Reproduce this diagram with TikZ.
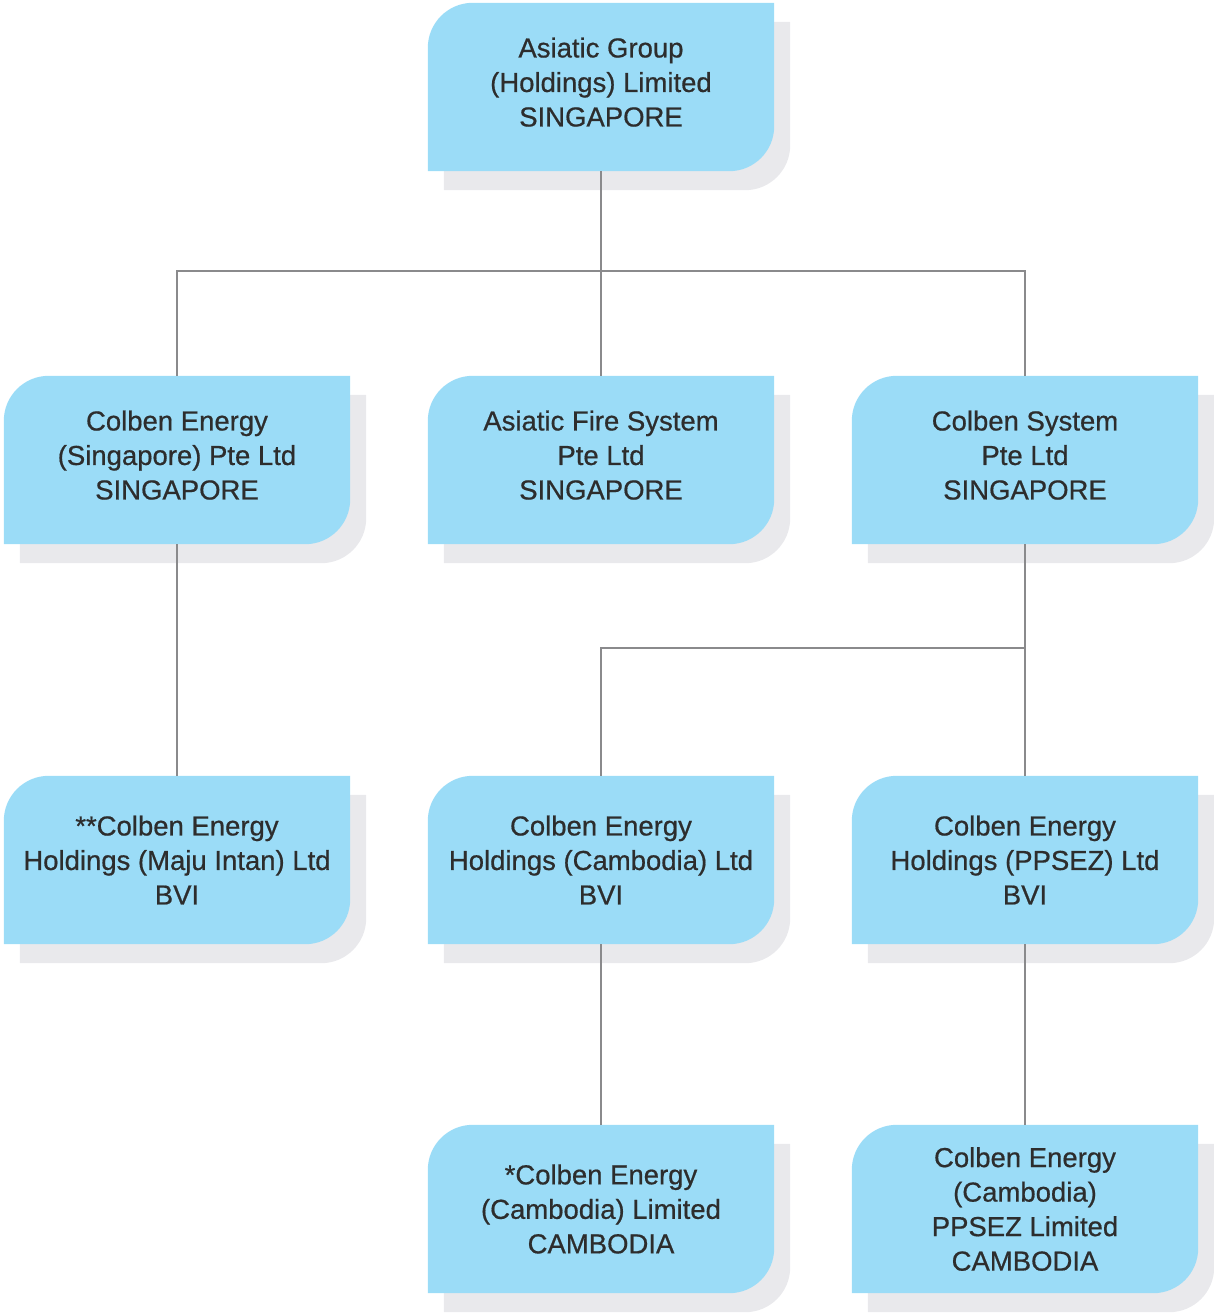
\documentclass[tikz,border=0pt]{standalone}
\usepackage{fontspec}
\setmainfont{Liberation Sans}
\newfontfamily\orgfont{Liberation Sans}[FakeBold=0.6]
\usetikzlibrary{backgrounds}
\definecolor{boxblue}{RGB}{155,220,247}
\definecolor{shadowgrey}{RGB}{233,233,236}
\definecolor{linegrey}{RGB}{138,138,140}
\definecolor{textgrey}{RGB}{45,45,45}

% box outline: round top left and bottom right corners only
\newcommand{\orgshape}[3]{%
  \fill[#2] ([shift={#3}]#1.north east) [rounded corners=45pt] -- ([shift={#3}]#1.north west)
    [sharp corners] -- ([shift={#3}]#1.south west) [rounded corners=45pt] -- ([shift={#3}]#1.south east)
    [sharp corners] -- cycle;}

\begin{document}
\begin{tikzpicture}[x=1pt, y=-1pt,
  orgbox/.style={minimum width=346pt, minimum height=168pt, inner sep=0pt, align=center,
    text=textgrey, font=\orgfont\fontsize{27.5}{34.5}\selectfont},
  lift/.style={text depth=10pt},
  link/.style={draw=linegrey, line width=2.5pt}]
\useasboundingbox (0,0) rectangle (1214,1313);
% 	\draw[help lines] (0,0) grid (1214,1313);
\node[orgbox, lift] (grp) at (601,87) {Asiatic Group\\(Holdings) Limited\\SINGAPORE};
\node[orgbox, lift] (ces) at (177,460) {Colben Energy\\(Singapore) Pte Ltd\\SINGAPORE};
\node[orgbox, lift] (afs) at (601,460) {Asiatic Fire System\\Pte Ltd\\SINGAPORE};
\node[orgbox, lift] (csys) at (1025,460) {Colben System\\Pte Ltd\\SINGAPORE};
\node[orgbox] (cemi) at (177,860) {**Colben Energy\\Holdings (Maju Intan) Ltd\\BVI};
\node[orgbox] (cecam) at (601,860) {Colben Energy\\Holdings (Cambodia) Ltd\\BVI};
\node[orgbox] (ceppsez) at (1025,860) {Colben Energy\\Holdings (PPSEZ) Ltd\\BVI};
\node[orgbox] (cecl) at (601,1209) {*Colben Energy\\(Cambodia) Limited\\CAMBODIA};
\node[orgbox] (ceppl) at (1025,1209) {Colben Energy\\(Cambodia)\\PPSEZ Limited\\CAMBODIA};
\coordinate (top) at (601,271);
\coordinate (mid) at (1025,648);
\begin{scope}[on background layer]
\foreach \n in {grp,ces,afs,csys,cemi,cecam,ceppsez,cecl,ceppl}
  \orgshape{\n}{shadowgrey}{(16,19)};
\foreach \n in {grp,ces,afs,csys,cemi,cecam,ceppsez,cecl,ceppl}
  \orgshape{\n}{boxblue}{(0,0)};
\end{scope}
\draw[link] (grp.south) -- (afs.north);
\draw[link] (ces.north) |- (top) -| (csys.north);
\draw[link] (ces.south) -- (cemi.north);
\draw[link] (csys.south) -- (ceppsez.north);
\draw[link] (mid) -| (cecam.north);
\draw[link] (cecam.south) -- (cecl.north);
\draw[link] (ceppsez.south) -- (ceppl.north);
\end{tikzpicture}
\end{document}
